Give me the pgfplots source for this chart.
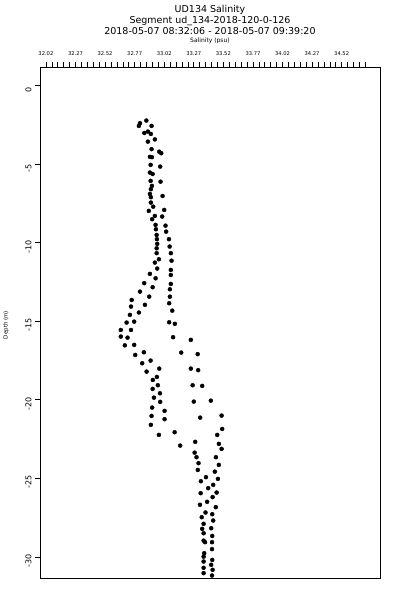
\documentclass[border=0pt]{standalone}
\usepackage{fontspec}
\setmainfont{DejaVu Sans}
\usepackage{pgfplots}
\pgfplotsset{compat=1.18}
\begin{document}
\begin{tikzpicture}[x=1pt,y=1pt]
\useasboundingbox (0,0) rectangle (400,-600);
\node[font=\fontsize{9.5}{10}\selectfont] at (210,-10) {UD134 Salinity};
\node[font=\fontsize{9.5}{10}\selectfont] at (210,-21) {Segment ud\_134-2018-120-0-126};
\node[font=\fontsize{9.5}{10}\selectfont] at (210,-31.5) {2018-05-07 08:32:06 - 2018-05-07 09:39:20};
\node[font=\fontsize{6}{7}\selectfont] at (210,-40.5) {Salinity (psu)};
\node[font=\fontsize{5.5}{6}\selectfont, rotate=90] at (6,-325) {Depth (m)};
\begin{axis}[
  at={(40pt,-67pt)}, anchor=north west,
  scale only axis, width=340pt, height=511pt,
  xmin=31.97, xmax=34.844, ymin=-31.35, ymax=1.18,
  axis line style={line width=0.8pt},
  xtick pos=right, ytick pos=left, tick align=outside,
  xticklabel pos=right,
  xtick={32.02,32.27,32.52,32.77,33.02,33.27,33.52,33.77,34.02,34.27,34.52},
  xticklabels={32.02,32.27,32.52,32.77,33.02,33.27,33.52,33.77,34.02,34.27,34.52},
  minor xtick={32.07,32.12,...,34.73},
  major tick length=5pt, minor tick length=5pt,
  tick style={line width=0.6pt, black},
  xticklabel style={font=\fontsize{5.2}{6}\selectfont, yshift=3pt},
  ytick={0,-5,-10,-15,-20,-25,-30},
  yticklabels={0,-5,-10,-15,-20,-25,-30},
  yticklabel style={font=\fontsize{8}{8}\selectfont, rotate=90, anchor=south, xshift=-4pt},
  /pgf/number format/assume math mode=true,
]
\addplot[only marks, mark=*, mark size=2pt, black] coordinates {
(32.815,-2.40) (32.869,-2.23) (32.806,-2.57) (32.913,-2.57) (32.852,-3.02) (32.882,-2.93)
(32.907,-3.08) (32.882,-3.57) (32.941,-3.43) (32.913,-4.05) (32.978,-4.21) (32.995,-4.31)
(32.899,-4.54) (32.916,-4.56) (32.905,-5.05) (32.986,-5.16) (32.899,-5.54) (32.922,-5.63)
(32.989,-6.12) (32.905,-6.07) (32.916,-6.39) (32.907,-6.60) (32.899,-6.90) (32.907,-7.11)
(33.006,-7.03) (32.907,-7.45) (32.927,-7.71) (33.020,-7.92) (32.890,-7.98) (32.941,-8.30)
(32.918,-8.51) (33.003,-8.34) (32.947,-8.87) (32.950,-9.15) (33.031,-8.92) (33.036,-9.30)
(32.956,-9.51) (32.958,-9.78) (33.060,-9.78) (32.961,-10.08) (32.956,-10.36) (33.066,-10.25)
(32.956,-10.67) (33.076,-10.67) (32.975,-11.06) (32.941,-11.27) (33.082,-11.15) (32.961,-11.65)
(33.076,-11.74) (32.899,-11.99) (32.947,-12.27) (33.076,-12.06) (32.851,-12.58) (32.922,-12.84)
(33.076,-12.63) (33.068,-12.97) (32.815,-13.12) (32.893,-13.44) (33.068,-13.44) (32.745,-13.65)
(33.062,-13.86) (32.857,-13.96) (32.739,-14.07) (33.088,-14.33) (32.806,-14.45) (32.730,-14.60)
(32.766,-15.03) (32.702,-15.09) (33.062,-15.07) (33.110,-15.17) (32.653,-15.56) (32.739,-15.56)
(32.653,-15.98) (32.710,-16.05) (33.095,-16.02) (33.245,-16.19) (32.687,-16.54) (32.766,-16.51)
(32.848,-16.98) (32.775,-17.15) (33.164,-17.00) (33.303,-17.10) (32.905,-17.51) (32.834,-17.68)
(32.871,-18.21) (32.978,-18.02) (33.245,-18.02) (33.307,-18.12) (32.958,-18.55) (32.924,-18.74)
(32.966,-19.08) (32.922,-19.31) (33.260,-19.08) (33.341,-19.12) (32.984,-19.59) (32.933,-19.87)
(32.986,-20.14) (33.270,-20.12) (33.414,-20.06) (32.918,-20.50) (33.023,-20.71) (32.913,-21.03)
(33.023,-21.24) (33.324,-21.14) (33.505,-21.01) (32.907,-21.60) (33.510,-21.86) (33.468,-22.24)
(32.975,-22.24) (33.108,-22.07) (33.282,-22.68) (33.482,-22.81) (33.155,-22.92) (33.505,-23.13)
(33.277,-23.37) (33.293,-23.66) (33.310,-24.04) (33.304,-24.47) (33.457,-23.66) (33.482,-24.15)
(33.448,-24.58) (33.474,-25.04) (33.373,-24.93) (33.330,-25.19) (33.434,-25.42) (33.392,-25.63)
(33.328,-25.95) (33.463,-25.91) (33.429,-26.20) (33.383,-26.50) (33.322,-26.69) (33.456,-26.84)
(33.369,-27.18) (33.426,-27.29) (33.337,-27.48) (33.434,-27.69) (33.353,-27.90) (33.341,-28.22)
(33.417,-28.18) (33.353,-28.50) (33.426,-28.67) (33.353,-28.97) (33.365,-29.07) (33.424,-29.07)
(33.424,-29.51) (33.358,-29.77) (33.353,-29.99) (33.426,-30.20) (33.353,-30.30) (33.417,-30.51)
(33.353,-30.70) (33.429,-30.83) (33.353,-31.04) (33.424,-31.19) (33.353,-31.40) (33.417,-31.42)
};
\end{axis}
\end{tikzpicture}
\end{document}
